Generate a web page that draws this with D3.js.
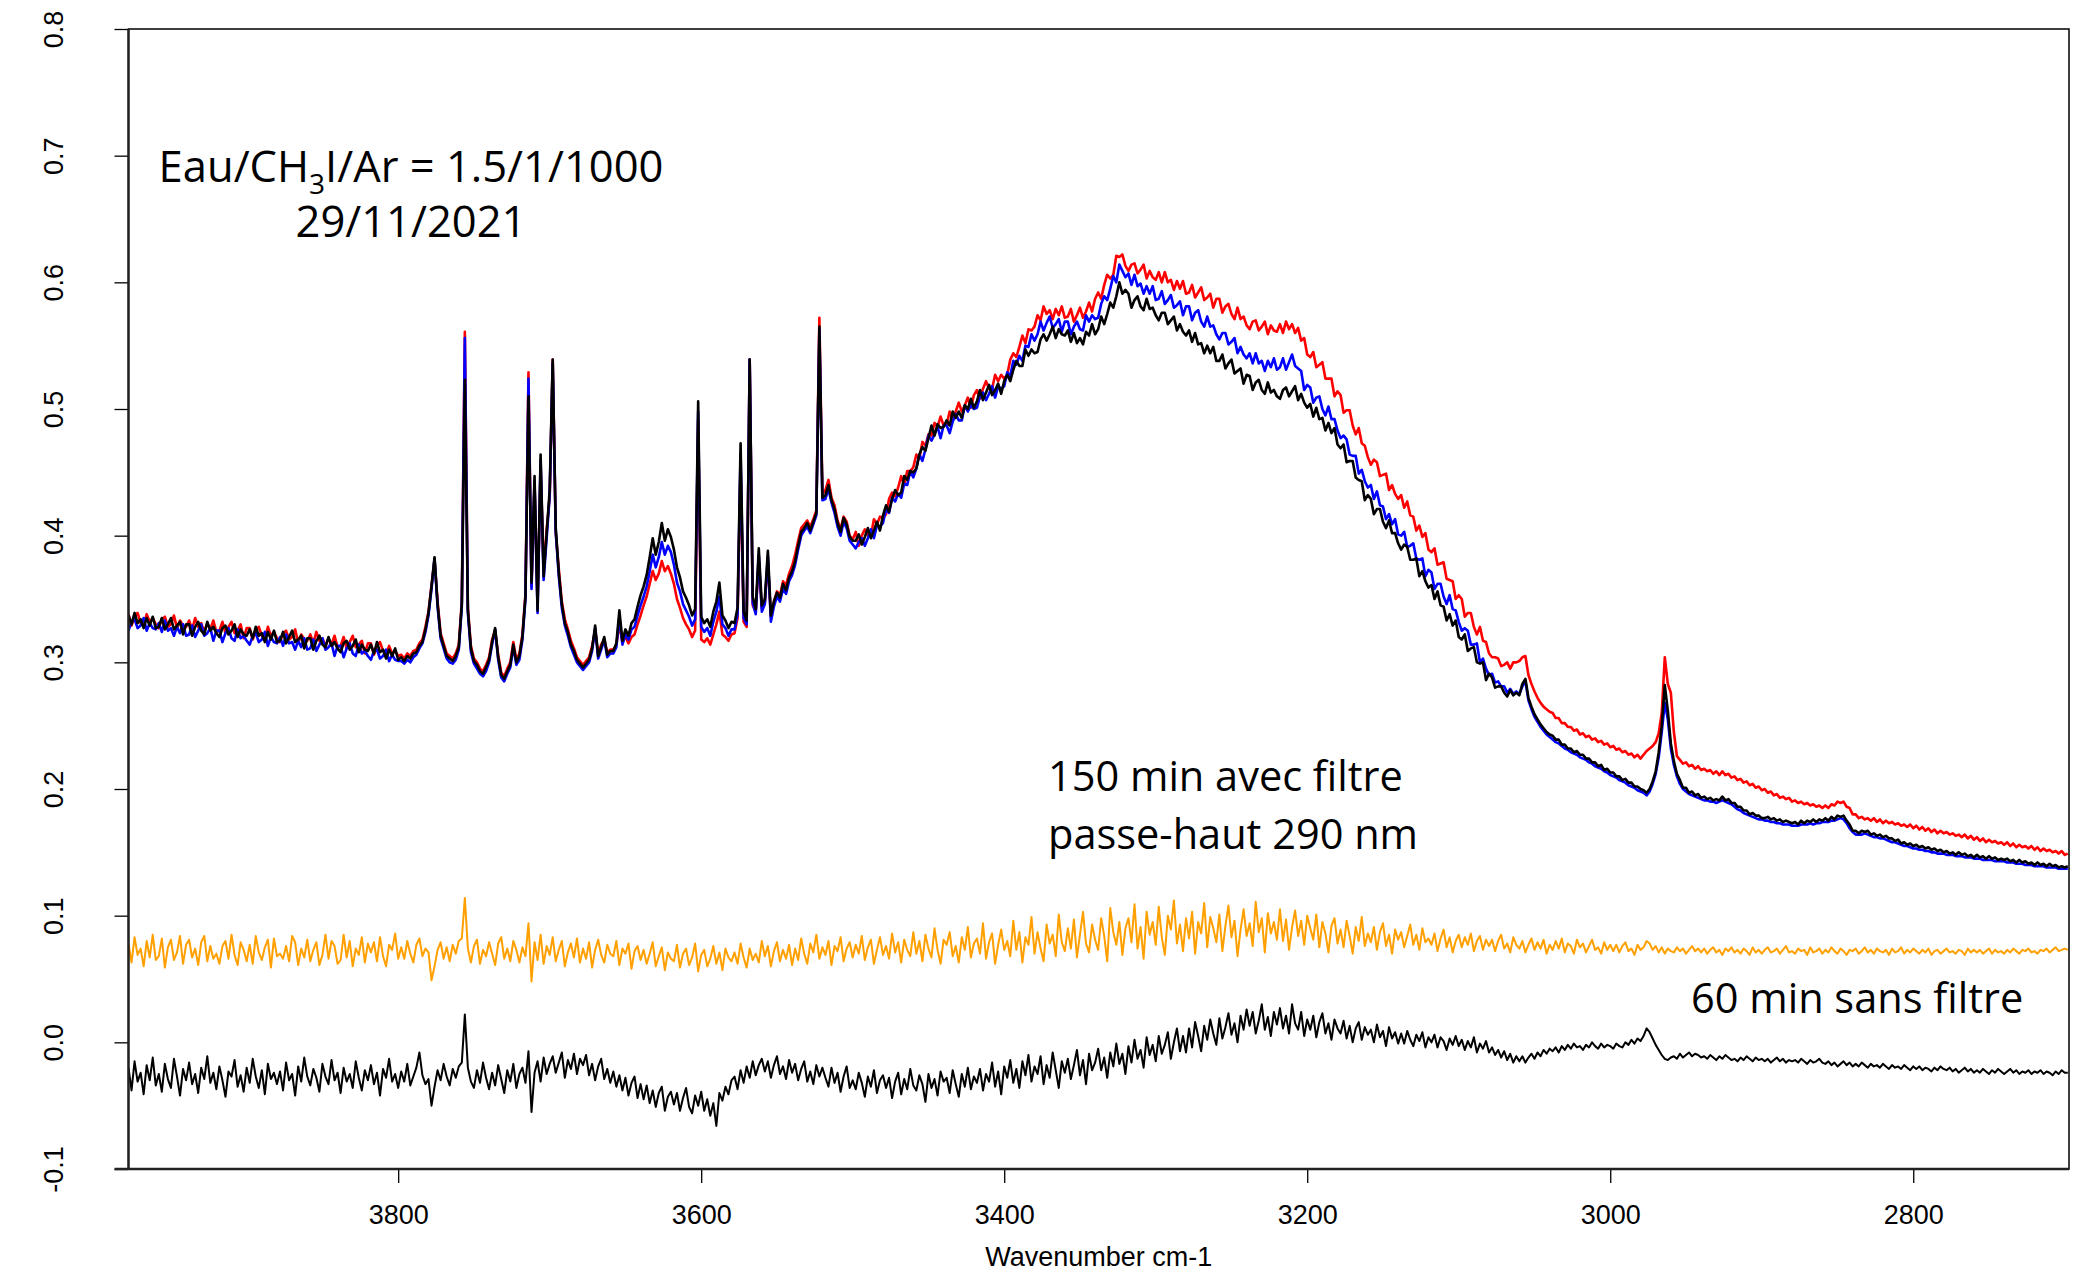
<!DOCTYPE html>
<html>
<head>
<meta charset="utf-8">
<script src="https://cdn.jsdelivr.net/npm/d3@7"></script>
<style>
  html, body { margin: 0; padding: 0; background: #fff; }
  svg { display: block; }
</style>
</head>
<body>
<svg id="chart" width="2075" height="1273"></svg>
<script>
// Sampling grid of the spectra (cm-1), high to low wavenumber
const wnStart = 3978, wnEnd = 2698, wnStep = 2;

// Axis limits and ticks
const xLimits = [3978, 2697.2];
const yLimits = [-0.1, 0.8];
const xTicks = [3800, 3600, 3400, 3200, 3000, 2800];
const xTickLabels = ["3800", "3600", "3400", "3200", "3000", "2800"];
const yTicks = [-0.1, 0.0, 0.1, 0.2, 0.3, 0.4, 0.5, 0.6, 0.7, 0.8];
const yTickLabels = ["-0.1", "0.0", "0.1", "0.2", "0.3", "0.4", "0.5", "0.6", "0.7", "0.8"];

// Absorbance spectra (one value per grid point)
const specRed = [
.338,.329,.336,.339,.331,.329,.338,.332,.335,.330,
.327,.334,.336,.328,.330,.337,.327,.333,.329,.328,
.333,.326,.335,.328,.331,.324,.331,.326,.333,.324,
.325,.332,.323,.328,.332,.323,.325,.330,.319,.327,
.327,.318,.325,.328,.321,.319,.328,.321,.324,.319,
.316,.323,.325,.318,.320,.326,.315,.322,.318,.317,
.322,.315,.324,.317,.319,.313,.319,.314,.321,.312,
.313,.320,.311,.316,.321,.312,.314,.317,.307,.315,
.315,.306,.313,.316,.309,.306,.313,.307,.309,.305,
.306,.303,.307,.305,.309,.310,.315,.318,.328,.340,
.361,.381,.348,.323,.315,.307,.305,.303,.307,.314,
.348,.561,.343,.313,.303,.300,.295,.293,.298,.304,
.318,.325,.306,.292,.289,.295,.300,.316,.302,.307,
.322,.354,.529,.360,.440,.345,.455,.372,.405,.430,
.539,.402,.374,.348,.334,.326,.317,.311,.304,.301,
.298,.301,.304,.313,.325,.307,.314,.318,.308,.310,
.310,.314,.330,.316,.320,.315,.320,.322,.330,.337,
.345,.352,.362,.372,.365,.370,.380,.372,.376,.370,
.362,.350,.343,.335,.330,.326,.320,.325,.490,.318,
.316,.319,.314,.322,.330,.340,.322,.320,.317,.322,
.323,.335,.455,.332,.328,.539,.345,.340,.380,.343,
.347,.380,.336,.348,.356,.353,.364,.361,.370,.376,
.385,.396,.406,.409,.412,.407,.413,.420,.572,.433,
.436,.444,.430,.424,.412,.405,.415,.411,.400,.397,
.403,.392,.400,.405,.400,.400,.413,.409,.415,.414,
.417,.429,.434,.431,.438,.447,.440,.451,.451,.454,
.464,.461,.474,.471,.480,.479,.489,.486,.494,.487,
.488,.498,.491,.498,.505,.498,.503,.509,.501,.511,
.515,.508,.516,.522,.516,.516,.527,.522,.527,.524,
.527,.539,.544,.541,.549,.558,.552,.563,.562,.565,
.574,.570,.581,.575,.578,.571,.579,.574,.581,.572,
.573,.579,.569,.574,.580,.572,.577,.584,.577,.587,
.592,.587,.598,.606,.603,.606,.621,.620,.622,.613,
.609,.614,.615,.607,.610,.614,.603,.609,.604,.602,
.608,.600,.608,.600,.602,.594,.601,.595,.601,.591,
.592,.598,.588,.592,.596,.586,.588,.591,.580,.587,
.587,.576,.581,.583,.575,.571,.580,.571,.573,.566,
.563,.569,.570,.562,.565,.569,.559,.566,.562,.561,
.567,.560,.569,.563,.567,.560,.564,.554,.556,.543,
.541,.545,.533,.535,.537,.524,.524,.524,.510,.514,
.511,.497,.499,.499,.487,.480,.485,.473,.471,.462,
.456,.460,.458,.447,.448,.449,.436,.440,.433,.429,
.432,.422,.427,.416,.415,.404,.408,.399,.402,.389,
.387,.390,.377,.378,.379,.366,.365,.364,.350,.353,
.350,.336,.339,.339,.328,.322,.328,.317,.316,.307,
.304,.304,.303,.297,.298,.300,.295,.300,.300,.301,
.304,.305,.290,.283,.277,.272,.268,.265,.263,.261,
.260,.256,.256,.252,.252,.249,.249,.246,.247,.243,
.244,.241,.242,.239,.240,.237,.238,.235,.236,.233,
.234,.231,.232,.229,.230,.227,.228,.225,.227,.224,
.227,.230,.232,.234,.237,.244,.260,.304,.283,.276,
.245,.226,.223,.220,.221,.218,.219,.216,.218,.215,
.216,.214,.215,.212,.214,.211,.214,.211,.212,.209,
.210,.207,.208,.205,.206,.203,.204,.201,.202,.199,
.200,.197,.198,.195,.196,.193,.194,.192,.193,.190,
.191,.189,.190,.188,.189,.187,.188,.186,.187,.185,
.187,.185,.188,.187,.190,.189,.190,.186,.185,.180,
.180,.177,.178,.176,.177,.175,.177,.174,.176,.173,
.175,.173,.174,.172,.173,.171,.172,.170,.172,.169,
.171,.168,.170,.167,.169,.166,.168,.165,.167,.165,
.166,.164,.165,.163,.164,.162,.164,.161,.163,.160,
.162,.159,.161,.158,.160,.158,.159,.157,.158,.156,
.158,.155,.157,.154,.156,.154,.155,.153,.155,.152,
.154,.151,.153,.151,.152,.150,.151,.149,.151,.148,
.149
];

const specBlue = [
.325,.332,.334,.327,.329,.335,.325,.331,.327,.326,
.331,.324,.333,.325,.327,.321,.328,.323,.330,.321,
.322,.329,.320,.325,.330,.321,.323,.327,.317,.325,
.325,.316,.323,.327,.319,.317,.326,.319,.321,.317,
.314,.321,.323,.316,.318,.324,.313,.320,.316,.315,
.320,.313,.322,.315,.316,.310,.317,.312,.319,.310,
.311,.318,.309,.314,.319,.310,.312,.315,.305,.313,
.313,.304,.311,.315,.307,.305,.314,.307,.309,.305,
.302,.309,.310,.303,.305,.310,.301,.306,.302,.301,
.301,.299,.302,.300,.304,.306,.311,.315,.324,.337,
.358,.382,.344,.319,.311,.303,.300,.299,.302,.310,
.344,.556,.339,.308,.299,.295,.291,.289,.293,.300,
.314,.326,.302,.288,.285,.291,.296,.312,.298,.302,
.318,.350,.524,.358,.443,.339,.460,.365,.398,.432,
.536,.403,.368,.343,.329,.321,.312,.306,.300,.297,
.294,.297,.300,.309,.327,.303,.310,.318,.304,.307,
.307,.312,.336,.314,.322,.318,.326,.328,.337,.345,
.352,.360,.372,.385,.375,.383,.395,.385,.392,.387,
.377,.363,.356,.346,.341,.336,.329,.334,.498,.328,
.324,.327,.321,.332,.340,.352,.330,.327,.321,.326,
.326,.338,.465,.335,.330,.539,.347,.338,.385,.340,
.346,.384,.332,.344,.352,.348,.358,.354,.364,.369,
.377,.389,.400,.404,.407,.402,.409,.416,.563,.428,
.429,.437,.426,.418,.407,.400,.411,.406,.396,.393,
.390,.395,.398,.392,.398,.405,.398,.408,.407,.410,
.421,.418,.430,.427,.433,.430,.441,.440,.451,.446,
.453,.464,.459,.468,.479,.475,.480,.486,.477,.487,
.487,.481,.490,.496,.491,.491,.503,.498,.503,.500,
.501,.510,.513,.507,.512,.518,.509,.518,.516,.518,
.529,.526,.538,.535,.542,.538,.550,.549,.559,.554,
.559,.569,.562,.568,.573,.564,.567,.571,.561,.569,
.569,.559,.565,.569,.563,.562,.574,.569,.574,.571,
.572,.583,.589,.586,.595,.605,.600,.614,.609,.604,
.607,.598,.606,.597,.599,.591,.597,.591,.597,.586,
.587,.593,.583,.586,.590,.580,.582,.585,.574,.581,
.581,.570,.576,.578,.569,.565,.573,.565,.566,.559,
.555,.560,.560,.551,.553,.556,.544,.549,.543,.540,
.544,.536,.544,.536,.538,.530,.538,.533,.540,.531,
.533,.540,.531,.537,.543,.534,.532,.530,.515,.519,
.517,.505,.509,.510,.500,.495,.502,.492,.492,.483,
.477,.479,.476,.464,.463,.463,.449,.452,.443,.438,
.440,.429,.435,.424,.423,.413,.417,.409,.413,.401,
.400,.403,.391,.392,.394,.382,.381,.382,.368,.373,
.371,.358,.362,.362,.352,.346,.353,.342,.341,.332,
.325,.327,.325,.314,.314,.315,.300,.303,.295,.290,
.291,.284,.285,.281,.281,.276,.279,.275,.277,.275,
.281,.285,.270,.263,.257,.253,.249,.246,.243,.241,
.239,.237,.236,.234,.232,.231,.229,.228,.227,.225,
.224,.223,.221,.220,.218,.217,.216,.214,.213,.211,
.210,.209,.207,.206,.205,.203,.202,.201,.199,.198,
.197,.195,.198,.204,.212,.225,.245,.268,.255,.232,
.219,.210,.204,.200,.198,.196,.195,.194,.193,.192,
.191,.191,.190,.190,.189,.190,.191,.190,.189,.188,
.186,.184,.183,.181,.180,.179,.178,.177,.176,.176,
.175,.175,.174,.174,.173,.173,.172,.172,.172,.171,
.171,.171,.172,.172,.172,.173,.172,.173,.173,.174,
.174,.174,.175,.175,.176,.177,.176,.173,.169,.166,
.164,.164,.164,.165,.164,.163,.162,.162,.161,.161,
.160,.159,.158,.158,.157,.156,.155,.155,.154,.153,
.153,.152,.152,.151,.151,.150,.150,.149,.149,.149,
.148,.148,.148,.147,.147,.147,.146,.146,.146,.145,
.145,.145,.144,.144,.144,.144,.143,.143,.143,.143,
.142,.142,.142,.141,.141,.141,.140,.140,.140,.139,
.139,.139,.139,.138,.138,.138,.138,.137,.137,.137,
.137
];

const specBlack = [
.337,.330,.339,.331,.334,.327,.335,.329,.336,.327,
.328,.335,.326,.330,.335,.326,.329,.332,.322,.330,
.330,.321,.328,.332,.325,.322,.332,.325,.328,.323,
.320,.327,.329,.322,.325,.330,.320,.326,.322,.321,
.326,.319,.328,.321,.323,.316,.324,.318,.325,.316,
.317,.324,.315,.320,.325,.316,.318,.321,.311,.319,
.319,.310,.317,.321,.314,.312,.320,.313,.316,.311,
.308,.315,.317,.310,.313,.318,.308,.314,.310,.309,
.314,.307,.316,.308,.310,.303,.310,.305,.311,.302,
.304,.301,.305,.303,.307,.308,.313,.316,.326,.339,
.360,.383,.346,.321,.313,.305,.303,.301,.305,.312,
.346,.523,.341,.311,.301,.298,.293,.291,.296,.302,
.316,.327,.304,.290,.287,.293,.298,.314,.300,.305,
.320,.352,.510,.363,.447,.341,.464,.368,.402,.436,
.539,.406,.371,.346,.331,.324,.314,.309,.302,.299,
.296,.299,.302,.311,.329,.305,.312,.320,.306,.309,
.309,.315,.341,.317,.326,.321,.331,.334,.344,.353,
.360,.369,.383,.398,.385,.395,.410,.396,.405,.399,
.389,.375,.367,.356,.351,.345,.337,.342,.506,.336,
.331,.334,.328,.340,.348,.363,.337,.333,.327,.332,
.331,.343,.473,.340,.333,.539,.352,.342,.390,.345,
.350,.388,.337,.348,.355,.351,.362,.357,.367,.372,
.380,.392,.403,.406,.410,.404,.411,.418,.565,.430,
.432,.440,.428,.421,.410,.403,.414,.409,.399,.396,
.396,.401,.393,.399,.406,.398,.404,.411,.404,.416,
.424,.419,.429,.436,.432,.434,.447,.444,.451,.450,
.453,.464,.470,.467,.477,.487,.479,.488,.485,.486,
.491,.487,.498,.493,.498,.493,.503,.500,.508,.501,
.506,.515,.507,.513,.519,.511,.515,.520,.512,.522,
.527,.522,.531,.538,.534,.534,.547,.542,.547,.544,
.545,.555,.559,.554,.559,.565,.556,.563,.559,.558,
.562,.553,.560,.552,.556,.551,.561,.558,.567,.559,
.563,.573,.567,.575,.584,.580,.589,.600,.591,.594,
.591,.580,.586,.589,.581,.578,.587,.579,.580,.574,
.570,.576,.576,.567,.570,.573,.562,.567,.561,.558,
.562,.553,.560,.551,.552,.544,.550,.544,.549,.538,
.538,.543,.532,.536,.539,.528,.530,.532,.520,.527,
.526,.515,.521,.523,.515,.512,.521,.513,.515,.510,
.508,.515,.517,.510,.514,.518,.507,.512,.505,.501,
.504,.494,.501,.492,.493,.483,.489,.481,.485,.472,
.469,.472,.458,.459,.459,.446,.444,.443,.428,.432,
.429,.417,.421,.421,.411,.406,.412,.402,.402,.394,
.389,.393,.391,.381,.381,.382,.368,.372,.364,.359,
.361,.350,.356,.345,.344,.333,.338,.329,.333,.320,
.318,.322,.309,.311,.312,.300,.299,.300,.286,.291,
.288,.280,.281,.281,.276,.273,.278,.274,.276,.274,
.283,.287,.272,.265,.259,.255,.251,.248,.245,.243,
.242,.239,.239,.235,.235,.232,.232,.229,.230,.227,
.227,.224,.224,.221,.221,.218,.219,.215,.216,.213,
.213,.210,.210,.207,.208,.205,.205,.202,.202,.200,
.199,.197,.200,.206,.214,.229,.250,.282,.262,.236,
.222,.212,.207,.201,.201,.197,.198,.195,.196,.193,
.194,.192,.193,.191,.192,.191,.194,.191,.192,.189,
.189,.186,.186,.183,.183,.180,.181,.179,.179,.177,
.177,.178,.176,.177,.175,.176,.174,.175,.174,.173,
.174,.172,.175,.173,.175,.174,.176,.174,.176,.175,
.177,.175,.178,.176,.179,.178,.179,.175,.172,.167,
.167,.165,.167,.166,.167,.164,.165,.163,.164,.162,
.163,.161,.161,.159,.160,.157,.158,.156,.157,.155,
.156,.154,.155,.153,.154,.152,.153,.151,.152,.150,
.151,.149,.150,.148,.150,.148,.149,.147,.148,.146,
.148,.146,.147,.145,.147,.145,.146,.144,.145,.144,
.145,.143,.144,.142,.144,.142,.143,.141,.142,.140,
.142,.140,.141,.139,.141,.139,.140,.138,.139,.138,
.139
];

// Difference spectra
const diffFiltered = [
.078,.063,.083,.069,.074,.060,.080,.067,.085,.065,
.068,.082,.059,.075,.081,.065,.071,.084,.062,.077,
.081,.067,.074,.061,.079,.084,.064,.076,.066,.070,
.062,.076,.080,.066,.085,.069,.061,.079,.073,.064,
.077,.062,.084,.071,.065,.075,.081,.059,.082,.068,
.070,.066,.076,.064,.084,.079,.061,.074,.067,.081,
.064,.073,.079,.061,.069,.085,.066,.080,.076,.062,
.065,.085,.067,.080,.060,.074,.069,.083,.063,.078,
.071,.079,.064,.083,.068,.060,.077,.073,.086,.066,
.075,.066,.080,.070,.063,.077,.082,.068,.074,.071,
.049,.060,.073,.079,.066,.075,.064,.077,.070,.080,
.082,.114,.074,.063,.076,.081,.062,.073,.068,.079,
.070,.061,.078,.083,.066,.074,.064,.080,.073,.063,
.075,.068,.094,.048,.079,.065,.085,.062,.076,.069,
.083,.064,.073,.080,.060,.071,.078,.067,.082,.063,
.074,.066,.079,.059,.073,.081,.069,.063,.077,.070,
.068,.080,.061,.074,.070,.078,.058,.072,.076,.065,
.073,.062,.070,.079,.060,.068,.075,.057,.071,.066,
.064,.077,.059,.070,.074,.061,.067,.078,.056,.069,
.073,.060,.066,.076,.062,.071,.057,.074,.067,.064,
.071,.062,.078,.067,.059,.074,.065,.070,.063,.080,
.068,.076,.060,.072,.079,.064,.073,.066,.077,.061,
.074,.065,.082,.070,.062,.078,.071,.085,.066,.075,
.069,.080,.061,.076,.072,.083,.064,.074,.079,.067,
.077,.070,.084,.065,.075,.081,.062,.073,.083,.069,
.076,.066,.086,.071,.079,.063,.081,.073,.068,.087,
.070,.080,.064,.085,.074,.067,.090,.073,.062,.081,
.077,.087,.068,.076,.063,.083,.073,.091,.067,.078,
.082,.070,.094,.066,.079,.086,.062,.077,.089,.073,
.080,.068,.096,.073,.087,.063,.083,.077,.099,.070,
.087,.074,.064,.093,.078,.085,.068,.101,.079,.072,
.090,.074,.097,.067,.085,.103,.078,.071,.093,.081,
.073,.098,.084,.064,.106,.087,.077,.095,.069,.090,
.098,.079,.109,.074,.091,.066,.103,.085,.095,.077,
.107,.083,.069,.100,.089,.112,.078,.093,.072,.098,
.082,.103,.070,.095,.086,.110,.075,.099,.090,.079,
.101,.072,.092,.108,.083,.096,.068,.089,.105,.084,
.094,.076,.111,.087,.098,.071,.102,.086,.095,.081,
.105,.080,.097,.073,.091,.104,.084,.096,.077,.100,
.090,.081,.101,.075,.095,.086,.071,.092,.098,.078,
.089,.075,.096,.084,.070,.091,.080,.099,.076,.086,
.079,.091,.073,.087,.094,.076,.085,.070,.089,.081,
.087,.075,.084,.093,.077,.085,.073,.090,.079,.082,
.077,.086,.072,.082,.089,.075,.083,.071,.080,.085,
.075,.083,.077,.086,.072,.080,.084,.073,.081,.076,
.081,.072,.080,.085,.074,.078,.071,.083,.077,.074,
.080,.071,.077,.082,.073,.079,.074,.081,.070,.077,
.073,.080,.074,.082,.071,.078,.076,.070,.081,.075,
.078,.071,.076,.081,.073,.075,.070,.079,.073,.077,
.072,.077,.071,.076,.079,.072,.074,.069,.077,.073,
.075,.080,.078,.073,.076,.071,.075,.070,.074,.072,
.071,.075,.072,.074,.070,.073,.076,.072,.074,.071,
.074,.070,.073,.075,.071,.073,.069,.074,.072,.075,
.071,.073,.070,.074,.072,.069,.075,.071,.073,.070,
.073,.075,.071,.072,.074,.070,.073,.076,.071,.072,
.070,.074,.072,.073,.069,.075,.071,.072,.074,.070,
.073,.071,.075,.072,.070,.074,.072,.069,.073,.072,
.074,.070,.072,.075,.071,.073,.070,.074,.072,.071,
.073,.069,.074,.071,.072,.075,.070,.073,.071,.074,
.072,.070,.073,.071,.074,.069,.072,.073,.070,.072,
.074,.071,.072,.070,.073,.072,.069,.074,.071,.073,
.071,.073,.070,.072,.074,.070,.073,.071,.072,.070,
.073,.071,.074,.072,.070,.073,.072,.074,.071,.072,
.070,.073,.072,.074,.071,.073,.075,.072,.073,.074,
.073
];

const diffUnfiltered = [
-.020,-.038,-.015,-.031,-.024,-.041,-.018,-.030,-.012,-.034,
-.025,-.039,-.017,-.029,-.036,-.013,-.027,-.042,-.021,-.030,
-.016,-.033,-.025,-.040,-.020,-.029,-.011,-.032,-.024,-.037,
-.019,-.030,-.043,-.023,-.027,-.014,-.035,-.026,-.039,-.020,
-.032,-.013,-.027,-.036,-.022,-.041,-.017,-.029,-.024,-.033,
-.023,-.038,-.016,-.030,-.025,-.042,-.019,-.031,-.012,-.027,
-.034,-.021,-.028,-.039,-.017,-.027,-.033,-.014,-.030,-.024,
-.040,-.020,-.031,-.025,-.036,-.015,-.028,-.038,-.022,-.030,
-.018,-.033,-.024,-.042,-.021,-.028,-.013,-.031,-.025,-.036,
-.023,-.031,-.017,-.034,-.027,-.020,-.008,-.026,-.033,-.029,
-.050,-.035,-.022,-.030,-.017,-.027,-.034,-.021,-.028,-.019,
-.016,.022,-.020,-.031,-.036,-.022,-.032,-.016,-.028,-.037,
-.024,-.034,-.018,-.029,-.040,-.022,-.031,-.017,-.036,-.025,
-.020,-.032,-.007,-.055,-.024,-.015,-.031,-.012,-.025,-.017,
-.011,-.024,-.016,-.008,-.028,-.014,-.021,-.009,-.025,-.013,
-.018,-.010,-.026,-.017,-.030,-.019,-.013,-.029,-.021,-.032,
-.023,-.035,-.026,-.038,-.028,-.042,-.032,-.027,-.044,-.033,
-.045,-.034,-.048,-.038,-.051,-.040,-.035,-.054,-.043,-.039,
-.049,-.040,-.054,-.044,-.036,-.051,-.056,-.042,-.050,-.039,
-.054,-.045,-.058,-.048,-.066,-.040,-.046,-.035,-.041,-.030,
-.027,-.037,-.022,-.032,-.019,-.028,-.015,-.026,-.018,-.013,
-.023,-.015,-.028,-.018,-.011,-.025,-.019,-.029,-.014,-.024,
-.017,-.030,-.021,-.015,-.031,-.023,-.033,-.018,-.027,-.020,
-.028,-.035,-.020,-.032,-.024,-.039,-.027,-.019,-.036,-.030,
-.037,-.024,-.032,-.043,-.027,-.035,-.022,-.040,-.030,-.026,
-.036,-.028,-.044,-.031,-.024,-.041,-.029,-.037,-.021,-.034,
-.038,-.026,-.033,-.047,-.025,-.036,-.029,-.042,-.023,-.031,
-.028,-.040,-.022,-.033,-.043,-.025,-.035,-.020,-.037,-.027,
-.032,-.021,-.038,-.025,-.031,-.016,-.035,-.023,-.041,-.019,
-.028,-.014,-.032,-.021,-.036,-.015,-.026,-.010,-.031,-.019,
-.025,-.011,-.033,-.018,-.028,-.008,-.022,-.036,-.015,-.024,
-.013,-.029,-.018,-.006,-.026,-.014,-.033,-.009,-.022,-.016,
-.005,-.022,-.012,-.028,-.008,-.019,-.001,-.017,-.009,-.025,
-.003,-.016,.002,-.013,-.006,-.020,.004,-.010,-.002,-.015,
.005,-.009,-.002,.008,-.013,0,.011,-.007,.005,-.008,
.011,-.004,.016,.005,-.007,.013,.002,.018,.007,-.002,
.019,.003,.012,.023,.006,.015,0,.021,.010,.026,
.013,.024,.007,.017,.030,.010,.020,.005,.024,.014,
.027,.011,.021,.007,.030,.015,.010,.024,.005,.018,
.010,.021,.004,.016,.023,.007,.015,.002,.018,.011,
.007,.017,.003,.013,0,.011,.016,.002,.012,.006,
.010,0,.014,.004,.009,-.003,.012,.003,.008,-.001,
.007,-.001,.009,.002,-.003,.006,.001,.008,-.004,.004,
0,.006,-.004,.004,.001,-.006,.003,-.002,.005,-.003,
.002,-.006,.001,-.004,.004,-.008,-.001,-.005,.001,-.008,
-.004,-.010,-.006,-.012,-.007,-.014,-.009,-.016,-.011,-.015,
-.011,-.016,-.012,-.009,-.013,-.008,-.011,-.006,-.009,-.005,
-.007,-.004,-.008,-.003,-.006,-.002,-.005,-.001,-.004,-.003,
-.006,-.002,-.004,0,-.003,-.005,-.001,-.004,-.002,-.003,
-.005,-.001,-.003,-.004,0,-.002,.002,-.001,.003,.001,
.005,.011,.008,.003,-.002,-.006,-.010,-.013,-.014,-.012,
-.011,-.013,-.009,-.012,-.010,-.008,-.011,-.009,-.010,-.012,
-.011,-.013,-.010,-.012,-.014,-.011,-.013,-.010,-.012,-.014,
-.013,-.015,-.012,-.014,-.011,-.013,-.015,-.012,-.014,-.013,
-.015,-.013,-.016,-.014,-.012,-.015,-.013,-.016,-.014,-.015,
-.014,-.016,-.013,-.015,-.017,-.014,-.016,-.015,-.013,-.016,
-.017,-.015,-.018,-.016,-.019,-.017,-.015,-.018,-.016,-.019,
-.017,-.019,-.016,-.018,-.020,-.017,-.019,-.018,-.020,-.017,
-.019,-.021,-.018,-.020,-.019,-.021,-.018,-.020,-.022,-.019,
-.021,-.019,-.022,-.020,-.021,-.023,-.020,-.022,-.019,-.021,
-.022,-.020,-.023,-.021,-.024,-.022,-.020,-.023,-.021,-.024,
-.022,-.024,-.021,-.023,-.025,-.022,-.024,-.021,-.023,-.025,
-.023,-.021,-.024,-.022,-.025,-.023,-.024,-.022,-.025,-.023,
-.024,-.022,-.025,-.023,-.024,-.026,-.023,-.025,-.022,-.024,
-.024
];

// Text annotations
const noteMixture = { pre: "Eau/CH", sub: "3", post: "I/Ar = 1.5/1/1000" };
const noteDate = "29/11/2021";
const noteFiltered = ["150 min avec filtre", "passe-haut 290 nm"];
const noteUnfiltered = "60 min sans filtre";
const xTitle = "Wavenumber cm-1";

// ---------------------------------------------------------------
const wavenumbers = d3.range(wnStart, wnEnd - 1, -wnStep);

const plot = { left: 128.5, right: 2069, top: 29, bottom: 1169 };
const axisFont = "'Liberation Sans', Arial, Helvetica, sans-serif";
const noteFont = "'Open Sans', 'Noto Sans', sans-serif";

const svg = d3.select("#chart");
svg.append("rect").attr("width", 2075).attr("height", 1273).attr("fill", "#fff");

const x = d3.scaleLinear().domain(xLimits).range([plot.left, plot.right]);
const y = d3.scaleLinear().domain(yLimits).range([plot.bottom, plot.top]);

svg.append("clipPath").attr("id", "plotClip")
  .append("rect")
  .attr("x", plot.left).attr("y", plot.top)
  .attr("width", plot.right - plot.left).attr("height", plot.bottom - plot.top);

const line = d3.line()
  .x((d, i) => x(wavenumbers[i]))
  .y(d => y(d));

const series = [
  { values: specRed, color: "#ff0000", width: 2.6 },
  { values: specBlue, color: "#0000ff", width: 2.6 },
  { values: specBlack, color: "#000000", width: 2.6 },
  { values: diffFiltered, color: "#ffa000", width: 2 },
  { values: diffUnfiltered, color: "#000000", width: 2 }
];

const gLines = svg.append("g").attr("clip-path", "url(#plotClip)");
gLines.selectAll("path")
  .data(series)
  .join("path")
  .attr("d", s => line(s.values))
  .attr("fill", "none")
  .attr("stroke", s => s.color)
  .attr("stroke-width", s => s.width)
  .attr("stroke-linejoin", "round");

// Plot frame
svg.append("rect")
  .attr("x", plot.left).attr("y", plot.top)
  .attr("width", plot.right - plot.left).attr("height", plot.bottom - plot.top)
  .attr("fill", "none").attr("stroke", "#000").attr("stroke-width", 1.5);

// Bottom axis
const gx = svg.append("g")
  .attr("transform", `translate(0,${plot.bottom})`)
  .call(d3.axisBottom(x).tickValues(xTicks).tickSize(14).tickSizeOuter(0)
    .tickPadding(22).tickFormat((d, i) => xTickLabels[i]));
gx.select(".domain").remove();
gx.attr("font-family", axisFont).attr("font-size", 27);
gx.selectAll(".tick line").attr("stroke", "#000").attr("stroke-width", 1.3);
gx.selectAll(".tick text").attr("fill", "#000");

// Left axis with rotated labels
const gy = svg.append("g")
  .attr("transform", `translate(${plot.left},0)`)
  .call(d3.axisLeft(y).tickValues(yTicks).tickSize(14).tickSizeOuter(0)
    .tickFormat((d, i) => yTickLabels[i]));
gy.select(".domain").remove();
gy.attr("font-family", axisFont).attr("font-size", 27);
gy.selectAll(".tick line").attr("stroke", "#000").attr("stroke-width", 1.3);
gy.selectAll(".tick text")
  .attr("x", null).attr("dy", null)
  .attr("fill", "#000")
  .attr("text-anchor", "middle")
  .attr("transform", `translate(${63 - plot.left},0) rotate(-90)`);

// Heavier axis lines on left and bottom
svg.append("line")
  .attr("x1", plot.left).attr("x2", plot.left)
  .attr("y1", plot.top).attr("y2", plot.bottom)
  .attr("stroke", "#222").attr("stroke-width", 2.4);
svg.append("line")
  .attr("x1", plot.left - 14).attr("x2", plot.right)
  .attr("y1", plot.bottom).attr("y2", plot.bottom)
  .attr("stroke", "#222").attr("stroke-width", 2.4);

// Axis title
svg.append("text")
  .attr("x", (plot.left + plot.right) / 2).attr("y", 1266)
  .attr("text-anchor", "middle")
  .attr("font-family", axisFont).attr("font-size", 27)
  .text(xTitle);

// Annotations
const t1 = svg.append("text")
  .attr("x", 411).attr("y", 182)
  .attr("text-anchor", "middle")
  .attr("font-family", noteFont).attr("font-size", 43.5);
t1.append("tspan").text(noteMixture.pre);
t1.append("tspan").attr("font-size", 28).attr("dy", 12).text(noteMixture.sub);
t1.append("tspan").attr("dy", -12).text(noteMixture.post);

svg.append("text")
  .attr("x", 411).attr("y", 237)
  .attr("text-anchor", "middle")
  .attr("font-family", noteFont).attr("font-size", 43.5)
  .text(noteDate);

svg.selectAll("text.noteF")
  .data(noteFiltered)
  .join("text")
  .attr("class", "noteF")
  .attr("x", 1048)
  .attr("y", (d, i) => 791 + i * 58)
  .attr("font-family", noteFont).attr("font-size", 41.5)
  .text(d => d);

svg.append("text")
  .attr("x", 1691).attr("y", 1013)
  .attr("font-family", noteFont).attr("font-size", 41.5)
  .text(noteUnfiltered);
</script>
</body>
</html>
